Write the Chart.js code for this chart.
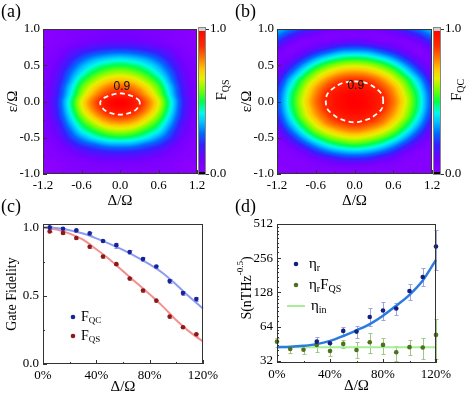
<!DOCTYPE html>
<html>
<head>
<meta charset="utf-8">
<script src="https://cdn.jsdelivr.net/npm/chart.js@4"></script>
<style>
  html, body { margin: 0; padding: 0; background: #fff; }
  #wrap { position: relative; width: 469px; height: 396px; }
  #wrap canvas { position: absolute; left: 0; top: 0; }
</style>
</head>
<body>
<div id="wrap">
  <canvas id="pa" width="469" height="396"></canvas>
  <canvas id="pb" width="469" height="396"></canvas>
  <canvas id="pc" width="469" height="396"></canvas>
  <canvas id="pd" width="469" height="396"></canvas>
</div>
<script>
// ---- (a),(b) maps: columns are Δ/Ω, rows are ε/Ω from +1.0 down to -1.0
const deltaTicks = [-1.2, -0.6, 0, 0.6, 1.2];
const epsTicks = [-1, -0.5, 0, 0.5, 1];
const gridDelta = [-1.2, -1.0, -0.8, -0.6, -0.4, -0.2, 0, 0.2, 0.4, 0.6, 0.8, 1.0, 1.2];
const gridEps = [1.0, 0.9, 0.8, 0.7, 0.6, 0.5, 0.4, 0.3, 0.2, 0.1, 0, -0.1, -0.2, -0.3, -0.4, -0.5, -0.6, -0.7, -0.8, -0.9, -1.0];

const fqsMap = [
  [0.01,0.02,0.04,0.06,0.07,0.09,0.09,0.09,0.07,0.06,0.04,0.02,0.01],
  [0.01,0.02,0.04,0.06,0.07,0.09,0.09,0.09,0.07,0.06,0.04,0.02,0.01],
  [0.01,0.03,0.06,0.09,0.12,0.13,0.14,0.13,0.12,0.09,0.06,0.03,0.01],
  [0.02,0.05,0.11,0.17,0.21,0.24,0.25,0.24,0.21,0.17,0.11,0.05,0.02],
  [0.03,0.07,0.16,0.25,0.32,0.36,0.38,0.36,0.32,0.25,0.16,0.07,0.03],
  [0.04,0.10,0.21,0.33,0.42,0.48,0.50,0.48,0.42,0.33,0.21,0.10,0.04],
  [0.05,0.12,0.26,0.40,0.51,0.58,0.61,0.58,0.51,0.40,0.26,0.12,0.05],
  [0.06,0.14,0.30,0.48,0.60,0.69,0.72,0.69,0.60,0.48,0.30,0.14,0.06],
  [0.07,0.16,0.35,0.55,0.69,0.79,0.83,0.79,0.69,0.55,0.35,0.16,0.07],
  [0.07,0.17,0.38,0.60,0.76,0.87,0.91,0.87,0.76,0.60,0.38,0.17,0.07],
  [0.08,0.19,0.42,0.66,0.83,0.96,1.00,0.96,0.83,0.66,0.42,0.19,0.08],
  [0.08,0.18,0.41,0.64,0.81,0.93,0.97,0.93,0.81,0.64,0.41,0.18,0.08],
  [0.07,0.17,0.37,0.58,0.73,0.84,0.88,0.84,0.73,0.58,0.37,0.17,0.07],
  [0.06,0.14,0.32,0.50,0.63,0.73,0.76,0.73,0.63,0.50,0.32,0.14,0.06],
  [0.05,0.12,0.26,0.42,0.52,0.60,0.63,0.60,0.52,0.42,0.26,0.12,0.05],
  [0.04,0.09,0.21,0.32,0.41,0.47,0.49,0.47,0.41,0.32,0.21,0.09,0.04],
  [0.03,0.06,0.14,0.22,0.27,0.32,0.33,0.32,0.27,0.22,0.14,0.06,0.03],
  [0.02,0.04,0.08,0.13,0.17,0.19,0.20,0.19,0.17,0.13,0.08,0.04,0.02],
  [0.01,0.02,0.05,0.07,0.09,0.11,0.11,0.11,0.09,0.07,0.05,0.02,0.01],
  [0.00,0.01,0.03,0.04,0.05,0.06,0.06,0.06,0.05,0.04,0.03,0.01,0.00],
  [0.00,0.01,0.02,0.03,0.03,0.04,0.04,0.04,0.03,0.03,0.02,0.01,0.00]
];

const fqcMap = [
  [0.36,0.29,0.22,0.16,0.11,0.09,0.09,0.09,0.11,0.16,0.22,0.29,0.36],
  [0.28,0.19,0.11,0.07,0.04,0.06,0.06,0.06,0.04,0.07,0.11,0.19,0.28],
  [0.19,0.09,0.05,0.08,0.11,0.15,0.17,0.15,0.11,0.08,0.05,0.09,0.19],
  [0.10,0.04,0.10,0.18,0.25,0.31,0.32,0.31,0.25,0.18,0.10,0.04,0.10],
  [0.06,0.09,0.20,0.32,0.41,0.47,0.49,0.47,0.41,0.32,0.20,0.09,0.06],
  [0.06,0.17,0.32,0.46,0.56,0.62,0.64,0.62,0.56,0.46,0.32,0.17,0.06],
  [0.10,0.26,0.43,0.58,0.68,0.75,0.77,0.75,0.68,0.58,0.43,0.26,0.10],
  [0.16,0.35,0.53,0.67,0.79,0.86,0.88,0.86,0.79,0.67,0.53,0.35,0.16],
  [0.21,0.41,0.59,0.75,0.86,0.93,0.95,0.93,0.86,0.75,0.59,0.41,0.21],
  [0.24,0.45,0.63,0.79,0.91,0.97,0.99,0.97,0.91,0.79,0.63,0.45,0.24],
  [0.25,0.46,0.65,0.81,0.92,0.98,1.00,0.98,0.92,0.81,0.65,0.46,0.25],
  [0.24,0.45,0.63,0.79,0.91,0.97,0.99,0.97,0.91,0.79,0.63,0.45,0.24],
  [0.21,0.41,0.60,0.75,0.86,0.93,0.95,0.93,0.86,0.75,0.60,0.41,0.21],
  [0.17,0.35,0.53,0.68,0.80,0.86,0.89,0.86,0.80,0.68,0.53,0.35,0.17],
  [0.11,0.27,0.44,0.59,0.69,0.76,0.79,0.76,0.69,0.59,0.44,0.27,0.11],
  [0.07,0.18,0.33,0.47,0.57,0.63,0.66,0.63,0.57,0.47,0.33,0.18,0.07],
  [0.04,0.10,0.21,0.33,0.43,0.49,0.52,0.49,0.43,0.33,0.21,0.10,0.04],
  [0.03,0.04,0.10,0.20,0.28,0.33,0.35,0.33,0.28,0.20,0.10,0.04,0.03],
  [0.03,0.03,0.04,0.09,0.13,0.18,0.19,0.18,0.13,0.09,0.04,0.03,0.03],
  [0.02,0.03,0.03,0.04,0.05,0.06,0.07,0.06,0.05,0.04,0.03,0.03,0.02],
  [0.02,0.02,0.03,0.03,0.03,0.04,0.04,0.04,0.03,0.03,0.03,0.02,0.02]
];

// ---- (c) gate fidelity
const fidX = [5, 15, 25, 35, 45, 55, 65, 75, 85, 95, 105, 115];
const fqcVals = [1.0, 0.99, 0.978, 0.956, 0.90, 0.87, 0.82, 0.768, 0.714, 0.607, 0.519, 0.475];
const fqcErr = [0.008, 0.008, 0.008, 0.012, 0.01, 0.018, 0.014, 0.016, 0.014, 0.016, 0.016, 0.012];
const fqsVals = [0.971, 0.959, 0.922, 0.858, 0.787, 0.731, 0.626, 0.538, 0.464, 0.347, 0.269, 0.218];
const fqsErr = [0.006, 0.006, 0.006, 0.008, 0.008, 0.008, 0.008, 0.01, 0.008, 0.01, 0.008, 0.01];
const fitX = [0, 10, 20, 30, 40, 50, 60, 70, 80, 90, 100, 110, 120];
const fqcFit = [1.0, 0.995, 0.98, 0.955, 0.92, 0.88, 0.835, 0.785, 0.73, 0.665, 0.58, 0.49, 0.405];
const fqsFit = [1.0, 0.985, 0.955, 0.91, 0.84, 0.765, 0.68, 0.595, 0.51, 0.42, 0.32, 0.235, 0.165];
const pctTicks = [0, 40, 80, 120];

// ---- (d) sensitivity
const sensX = [0, 10, 20, 30, 40, 50, 60, 70, 80, 90, 100, 110, 120];
const etaR = [null, null, null, 47.3, 45.8, 58.8, 58, 78, 89, 92.6, 132, 175, 325];
const etaRLo = [null, null, null, 43.4, 42.8, 54.2, 50.7, 65.1, 73.5, 81.3, 110, 146.5, 200];
const etaRHi = [null, null, null, 51.7, 49.1, 64.2, 65.1, 93.2, 106.5, 103, 151.7, 208, 449];
const etaFqs = [47.3, 40.8, 40.2, 44.2, 39.2, 45.2, 40, 46.7, 44.3, 38.2, 42.3, 42, 54.2];
const etaFqsLo = [42.8, 37.4, 36.7, 38.7, 35.7, 41.4, 33.8, 37.4, 36.7, 32.2, 36.2, 33.3, 33.3];
const etaFqsHi = [51.4, 43.7, 44.3, 49.1, 42.8, 49.1, 47.4, 56.1, 51.4, 43.7, 49.1, 50.7, 75.0];
const etaFit = [42.3, 42.6, 43.5, 45, 48, 53, 59.5, 67.5, 80, 98, 122, 163, 248];
const etaInX = [0, 120];
const etaIn = [42.2, 42.2];
const sTicks = [32, 64, 128, 256, 512];

const FONT = "'Liberation Serif', 'Times New Roman', serif";
Chart.defaults.font.family = FONT;
Chart.defaults.font.size = 13;
Chart.defaults.color = '#000';

// rainbow palette, value 0 -> violet, 1 -> red
const cmapStops = [
  [0.00, 140, 0, 255], [0.10, 115, 0, 255], [0.20, 55, 30, 255], [0.28, 0, 105, 255],
  [0.36, 0, 195, 255], [0.42, 0, 250, 235], [0.50, 0, 255, 70], [0.58, 120, 255, 0],
  [0.66, 230, 240, 0], [0.72, 255, 200, 0], [0.80, 255, 120, 0], [0.88, 255, 45, 0], [1.00, 255, 0, 0]
];
function rainbow(v) {
  v = Math.max(0, Math.min(1, v));
  for (let i = 1; i < cmapStops.length; i++) {
    if (v <= cmapStops[i][0]) {
      const a = cmapStops[i - 1], b = cmapStops[i];
      const t = (v - a[0]) / (b[0] - a[0]);
      return [1, 2, 3].map(k => Math.round(a[k] + t * (b[k] - a[k])));
    }
  }
  return [255, 0, 0];
}

function cubic(p0, p1, p2, p3, t) {
  return p1 + 0.5 * t * (p2 - p0 + t * (2 * p0 - 5 * p1 + 4 * p2 - p3 + t * (3 * (p1 - p2) + p3 - p0)));
}
function sampleGrid(grid, xs, ys, x, y) {
  const nx = xs.length, ny = ys.length;
  let fx = (x - xs[0]) / (xs[1] - xs[0]);
  let fy = (y - ys[0]) / (ys[1] - ys[0]);
  fx = Math.max(0, Math.min(nx - 1, fx));
  fy = Math.max(0, Math.min(ny - 1, fy));
  const ix = Math.min(nx - 2, Math.floor(fx)), iy = Math.min(ny - 2, Math.floor(fy));
  const tx = fx - ix, ty = fy - iy;
  const row = j => {
    const r = grid[Math.max(0, Math.min(ny - 1, j))];
    const c = i => r[Math.max(0, Math.min(nx - 1, i))];
    return cubic(c(ix - 1), c(ix), c(ix + 1), c(ix + 2), tx);
  };
  return cubic(row(iy - 1), row(iy), row(iy + 1), row(iy + 2), ty);
}

function richText(ctx, parts, x, y, align) {
  let w = 0;
  parts.forEach(p => { ctx.font = p[1] + 'px ' + FONT; w += ctx.measureText(p[0]).width; });
  let cx = align === 'center' ? x - w / 2 : x;
  ctx.textAlign = 'left';
  ctx.textBaseline = 'middle';
  parts.forEach(p => {
    ctx.font = p[1] + 'px ' + FONT;
    ctx.fillText(p[0], cx, y + (p[2] || 0));
    cx += ctx.measureText(p[0]).width;
  });
}

function panelLabel(text, x, y) {
  return {
    id: 'panelLabel',
    afterDraw(chart) {
      const ctx = chart.ctx;
      ctx.save();
      ctx.fillStyle = '#000';
      richText(ctx, [[text, 18, 0]], x, y, 'left');
      ctx.restore();
    }
  };
}

// heat map + colour bar + 0.9 contour
function heatPlugin(grid, cbSub, labelPos) {
  return {
    id: 'heat',
    beforeDatasetsDraw(chart) {
      const { ctx, chartArea: a, scales } = chart;
      const x = scales.x, y = scales.y, yc = scales.yc;
      const w = Math.round(a.right - a.left), h = Math.round(a.bottom - a.top);
      const off = document.createElement('canvas');
      off.width = w; off.height = h;
      const octx = off.getContext('2d');
      const img = octx.createImageData(w, h);
      for (let j = 0; j < h; j++) {
        const ev = y.getValueForPixel(a.top + j + 0.5);
        for (let i = 0; i < w; i++) {
          const dv = x.getValueForPixel(a.left + i + 0.5);
          const c = rainbow(sampleGrid(grid, gridDelta, gridEps, dv, ev));
          const k = (j * w + i) * 4;
          img.data[k] = c[0]; img.data[k + 1] = c[1]; img.data[k + 2] = c[2]; img.data[k + 3] = 255;
        }
      }
      octx.putImageData(img, 0, 0);
      ctx.drawImage(off, a.left, a.top);

      // contour at 0.9
      const val = (dv, ev) => sampleGrid(grid, gridDelta, gridEps, dv, ev);
      const level = 0.9;
      ctx.save();
      ctx.beginPath();
      for (let n = 0; n <= 200; n++) {
        const th = n / 200 * 2 * Math.PI;
        const dx = Math.cos(th) * 1.2, dy = Math.sin(th);
        let t0 = 0, t1 = 1;
        for (let t = 0.005; t <= 1; t += 0.005) {
          if (val(dx * t, dy * t) < level) { t1 = t; break; }
          t0 = t;
        }
        for (let b = 0; b < 20; b++) {
          const m = (t0 + t1) / 2;
          if (val(dx * m, dy * m) < level) t1 = m; else t0 = m;
        }
        const px = x.getPixelForValue(dx * t1), py = y.getPixelForValue(dy * t1);
        if (n === 0) ctx.moveTo(px, py); else ctx.lineTo(px, py);
      }
      ctx.strokeStyle = '#fff';
      ctx.lineWidth = 1.8;
      ctx.setLineDash([5, 3.5]);
      ctx.stroke();
      ctx.setLineDash([]);
      ctx.fillStyle = '#111';
      ctx.font = "12px 'Liberation Sans', Arial, sans-serif";
      ctx.textAlign = 'center';
      ctx.textBaseline = 'middle';
      ctx.fillText('0.9', x.getPixelForValue(labelPos[0]), y.getPixelForValue(labelPos[1]));

      // colour bar, shaded through its own scale
      const cbL = Math.round(a.right) + 1, cbW = 8;
      const top = Math.round(yc.top), bot = Math.round(yc.bottom);
      for (let py = top; py < bot; py++) {
        const c = rainbow(yc.getValueForPixel(py + 0.5));
        ctx.fillStyle = 'rgb(' + c.join(',') + ')';
        ctx.fillRect(cbL, py, cbW, 1);
      }
      ctx.fillStyle = '#d0d0d0';
      ctx.fillRect(cbL, top - 1, cbW, 3);
      ctx.fillStyle = '#000';
      ctx.fillRect(cbL, bot - 2, cbW, 3);
      ctx.strokeStyle = '#888';
      ctx.lineWidth = 1;
      ctx.strokeRect(cbL + 0.5, top - 1.5, cbW - 1, bot - top + 2);
      ctx.strokeStyle = '#333';
      ctx.beginPath();
      [0, 1].forEach(v => {
        const py = Math.round(yc.getPixelForValue(v)) + 0.5;
        ctx.moveTo(cbL + cbW, py); ctx.lineTo(cbL + cbW + 3, py);
      });
      ctx.stroke();
      ctx.translate(a.right + 25, 90);
      ctx.rotate(-Math.PI / 2);
      ctx.fillStyle = '#000';
      richText(ctx, [['F', 15, 0], [cbSub, 10, 4]], 0, 0, 'center');
      ctx.restore();
    }
  };
}

function frameTicks(xMinor, yMinor) {
  return {
    id: 'frameTicks',
    afterDatasetsDraw(chart) {
      const { ctx, chartArea: a, scales } = chart;
      const x = scales.x, y = scales.y;
      ctx.save();
      ctx.strokeStyle = '#333';
      ctx.lineWidth = 1;
      ctx.strokeRect(a.left + 0.5, a.top + 0.5, a.right - a.left - 1, a.bottom - a.top - 1);
      ctx.beginPath();
      const xt = (v, len) => { const px = Math.round(x.getPixelForValue(v)) + 0.5; ctx.moveTo(px, a.bottom); ctx.lineTo(px, a.bottom - len); };
      const yt = (v, len) => { const py = Math.round(y.getPixelForValue(v)) + 0.5; ctx.moveTo(a.left, py); ctx.lineTo(a.left + len, py); };
      x.ticks.forEach(t => xt(t.value, 4));
      xMinor.forEach(v => xt(v, 2));
      y.ticks.forEach(t => yt(t.value, 4));
      yMinor.forEach(v => yt(v, 2));
      ctx.stroke();
      ctx.restore();
    }
  };
}

function errorBars(sets) {
  return {
    id: 'errorBars',
    beforeDatasetsDraw(chart) {
      const { ctx, scales } = chart;
      const x = scales.x, y = scales.y;
      ctx.save();
      ctx.lineWidth = 1;
      sets.forEach(s => {
        ctx.strokeStyle = s.color;
        ctx.beginPath();
        s.xs.forEach((xv, i) => {
          if (s.lo[i] == null) return;
          const px = Math.round(x.getPixelForValue(xv)) + 0.5;
          const p1 = Math.round(y.getPixelForValue(s.lo[i])) + 0.5;
          const p2 = Math.round(y.getPixelForValue(s.hi[i])) + 0.5;
          ctx.moveTo(px, p1); ctx.lineTo(px, p2);
          ctx.moveTo(px - 2, p1); ctx.lineTo(px + 2, p1);
          ctx.moveTo(px - 2, p2); ctx.lineTo(px + 2, p2);
        });
        ctx.stroke();
      });
      ctx.restore();
    }
  };
}

function legendPlugin(items) {
  return {
    id: 'customLegend',
    afterDatasetsDraw(chart) {
      const ctx = chart.ctx;
      ctx.save();
      items.forEach(it => {
        if (it.kind === 'dot') {
          ctx.fillStyle = it.color;
          ctx.beginPath();
          ctx.arc(it.x, it.y, 2.3, 0, 2 * Math.PI);
          ctx.fill();
        } else {
          ctx.strokeStyle = it.color;
          ctx.lineWidth = 2;
          ctx.beginPath();
          ctx.moveTo(it.x - 9, it.y); ctx.lineTo(it.x + 9, it.y);
          ctx.stroke();
        }
        ctx.fillStyle = '#000';
        richText(ctx, it.text, it.tx, it.y, 'left');
      });
      ctx.restore();
    }
  };
}

const pts = (xs, ys) => xs.map((v, i) => ({ x: v, y: ys[i] }));
const noGrid = { display: false, drawTicks: false };
const noBorder = { display: false };

function heatChart(id, grid, cbSub, padLeft, padRight, labelPos, panel, panelX) {
  return new Chart(document.getElementById(id), {
    type: 'scatter',
    data: { datasets: [{ data: [] }] },
    options: {
      responsive: false,
      animation: false,
      layout: { padding: { left: padLeft, right: padRight, top: 29, bottom: 186 } },
      plugins: { legend: { display: false }, tooltip: { enabled: false } },
      scales: {
        x: {
          type: 'linear', min: -1.2, max: 1.2,
          afterBuildTicks: s => { s.ticks = deltaTicks.map(v => ({ value: v })); },
          ticks: { callback: v => v.toFixed(1), padding: 4, maxRotation: 0, autoSkip: false },
          grid: noGrid, border: noBorder,
          title: { display: true, text: 'Δ/Ω', font: { size: 15 }, padding: 0 },
          afterFit: s => { s.height = 36; }
        },
        y: {
          type: 'linear', min: -1, max: 1,
          afterBuildTicks: s => { s.ticks = epsTicks.map(v => ({ value: v })); },
          ticks: { callback: v => v.toFixed(1), padding: 3, autoSkip: false },
          grid: noGrid, border: noBorder,
          title: { display: true, text: 'ε/Ω', font: { size: 15 }, padding: 4 },
          afterFit: s => { s.width = 43; }
        },
        yc: {
          type: 'linear', position: 'right', min: 0, max: 1,
          afterBuildTicks: s => { s.ticks = [{ value: 0 }, { value: 1 }]; },
          ticks: { callback: v => v.toFixed(1), padding: 13, autoSkip: false },
          grid: noGrid, border: noBorder,
          afterFit: s => { s.width = 37; }
        }
      }
    },
    plugins: [heatPlugin(grid, cbSub, labelPos), frameTicks([-0.9, -0.3, 0.3, 0.9], [-0.75, -0.25, 0.25, 0.75]), panelLabel(panel, panelX, 12)]
  });
}

heatChart('pa', fqsMap, 'QS', 0, 235, [0.03, 0.21], '(a)', 1);
heatChart('pb', fqcMap, 'QC', 234, 0, [0.02, 0.22], '(b)', 235);

// (c)
new Chart(document.getElementById('pc'), {
  type: 'scatter',
  data: {
    datasets: [
      { data: pts(fidX, fqcVals), pointRadius: 2.3, backgroundColor: '#16239a', borderWidth: 0, order: 0 },
      { data: pts(fidX, fqsVals), pointRadius: 2.3, backgroundColor: '#8e1717', borderWidth: 0, order: 0 },
      { data: pts(fitX, fqcFit), showLine: true, pointRadius: 0, borderColor: '#8c9cf4', borderWidth: 2, cubicInterpolationMode: 'monotone', order: 1, clip: false },
      { data: pts(fitX, fqsFit), showLine: true, pointRadius: 0, borderColor: '#f29090', borderWidth: 2, cubicInterpolationMode: 'monotone', order: 1, clip: false }
    ]
  },
  options: {
    responsive: false,
    animation: false,
    layout: { padding: { left: 0, right: 266, top: 224, bottom: 0 } },
    plugins: { legend: { display: false }, tooltip: { enabled: false } },
    scales: {
      x: {
        type: 'linear', min: 0, max: 120,
        afterBuildTicks: s => { s.ticks = pctTicks.map(v => ({ value: v })); },
        ticks: { callback: v => v + '%', padding: 4, maxRotation: 0, autoSkip: false },
        grid: noGrid, border: noBorder,
        title: { display: true, text: 'Δ/Ω', font: { size: 15 }, padding: 0 },
        afterFit: s => { s.height = 32; }
      },
      y: {
        type: 'linear', min: 0, max: 1.025,
        afterBuildTicks: s => { s.ticks = [0, 0.5, 1].map(v => ({ value: v })); },
        ticks: { callback: v => v.toFixed(1), padding: 4, autoSkip: false },
        grid: noGrid, border: noBorder,
        title: { display: true, text: 'Gate Fidelity', font: { size: 14 }, padding: 4 },
        afterFit: s => { s.width = 43; }
      }
    }
  },
  plugins: [
    errorBars([
      { xs: fidX, lo: fqcVals.map((v, i) => v - fqcErr[i]), hi: fqcVals.map((v, i) => v + fqcErr[i]), color: '#8c93d6' },
      { xs: fidX, lo: fqsVals.map((v, i) => v - fqsErr[i]), hi: fqsVals.map((v, i) => v + fqsErr[i]), color: '#d69090' }
    ]),
    frameTicks([20, 60, 100], [0.25, 0.75]),
    legendPlugin([
      { kind: 'dot', color: '#16239a', x: 73, y: 317, tx: 81, text: [['F', 14, 0], ['QC', 9, 4]] },
      { kind: 'dot', color: '#8e1717', x: 73, y: 336, tx: 81, text: [['F', 14, 0], ['QS', 9, 4]] }
    ]),
    panelLabel('(c)', 1, 207)
  ]
});

// (d)
const sMinor = [];
[32, 64, 128, 256].forEach(a => { for (let k = 1; k < 8; k++) sMinor.push(a * (1 + k / 8)); });

new Chart(document.getElementById('pd'), {
  type: 'scatter',
  data: {
    datasets: [
      { data: pts(sensX, etaR), pointRadius: 2.3, backgroundColor: '#141f80', borderWidth: 0, order: 0, clip: false },
      { data: pts(sensX, etaFqs), pointRadius: 2.3, backgroundColor: '#4d711c', borderWidth: 0, order: 0, clip: false },
      { data: pts(sensX, etaFit), showLine: true, pointRadius: 0, borderColor: '#2a7be0', borderWidth: 2.5, cubicInterpolationMode: 'monotone', order: 1, clip: false },
      { data: pts(etaInX, etaIn), showLine: true, pointRadius: 0, borderColor: '#a6ee98', borderWidth: 2, order: 2, clip: false }
    ]
  },
  options: {
    responsive: false,
    animation: false,
    layout: { padding: { left: 234, right: 33, top: 224, bottom: 1 } },
    plugins: { legend: { display: false }, tooltip: { enabled: false } },
    scales: {
      x: {
        type: 'linear', min: 0, max: 120,
        afterBuildTicks: s => { s.ticks = pctTicks.map(v => ({ value: v })); },
        ticks: { callback: v => v + '%', padding: 4, maxRotation: 0, autoSkip: false },
        grid: noGrid, border: noBorder,
        title: { display: true, text: 'Δ/Ω', font: { size: 15 }, padding: 0 },
        afterFit: s => { s.height = 32; }
      },
      y: {
        type: 'logarithmic', min: 30.7, max: 512,
        afterBuildTicks: s => { s.ticks = sTicks.map(v => ({ value: v })); },
        ticks: { callback: v => String(v), padding: 4, autoSkip: false },
        grid: noGrid, border: noBorder,
        afterFit: s => { s.width = 43; }
      }
    }
  },
  plugins: [
    errorBars([
      { xs: sensX, lo: etaRLo, hi: etaRHi, color: '#9da3dc' },
      { xs: sensX, lo: etaFqsLo, hi: etaFqsHi, color: '#a0c885' }
    ]),
    frameTicks([20, 60, 100], sMinor),
    legendPlugin([
      { kind: 'dot', color: '#141f80', x: 296, y: 264, tx: 309, text: [['η', 15, 0], ['r', 10, 4]] },
      { kind: 'dot', color: '#4d711c', x: 296, y: 285, tx: 309, text: [['η', 15, 0], ['r', 10, 4], ['F', 15, 0], ['QS', 10, 4]] },
      { kind: 'line', color: '#a6ee98', x: 296, y: 306, tx: 311, text: [['η', 15, 0], ['in', 10, 4]] }
    ]),
    {
      id: 'sTitle',
      afterDraw(chart) {
        const ctx = chart.ctx;
        ctx.save();
        ctx.translate(247, 288);
        ctx.rotate(-Math.PI / 2);
        ctx.fillStyle = '#000';
        richText(ctx, [['S(nTHz', 14, 0], ['-0.5', 9, -6], [')', 14, 0]], 0, 0, 'center');
        ctx.restore();
      }
    },
    panelLabel('(d)', 235, 207)
  ]
});
</script>
</body>
</html>
